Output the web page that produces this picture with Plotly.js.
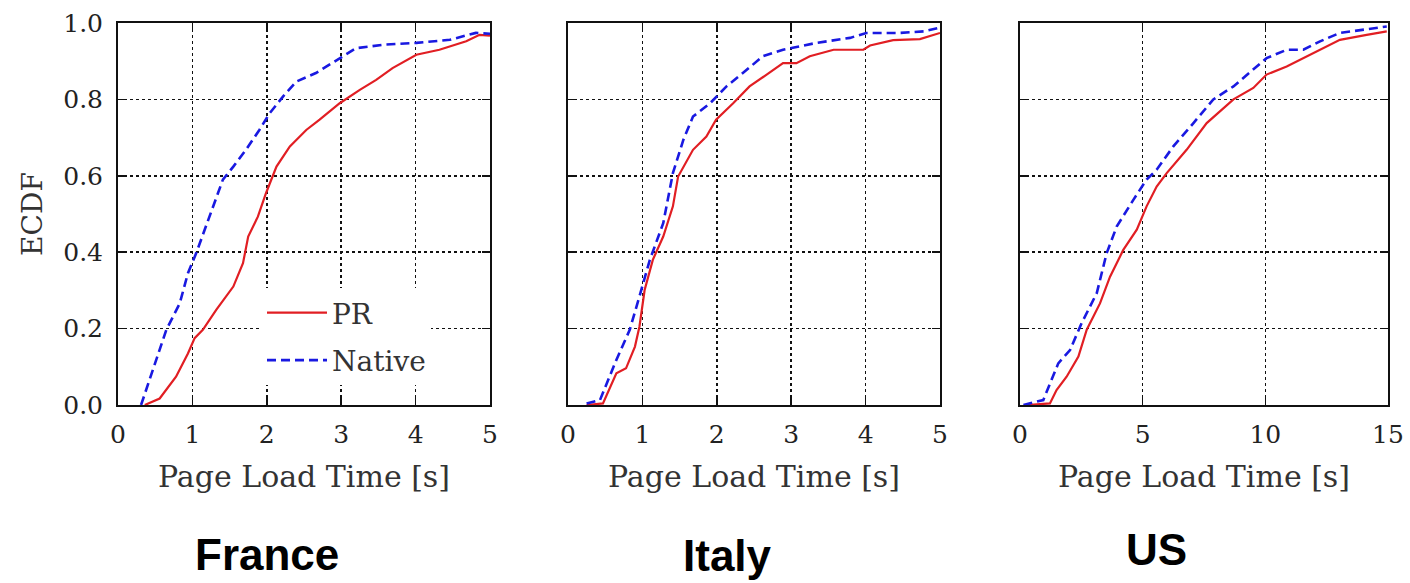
<!DOCTYPE html>
<html>
<head>
<meta charset="utf-8">
<script src="https://cdn.plot.ly/plotly-3.0.1.min.js"></script>
<style>html,body{margin:0;padding:0;background:#fff;}#chart{width:1410px;height:583px;}</style>
</head>
<body>
<div id="chart"></div>
<script>
// ---- Data ----
const countries = ["France", "Italy", "US"];
const seriesNames = ["PR", "Native"];

const francePR_x = [0.36,0.56,0.78,0.94,1.03,1.14,1.32,1.55,1.68,1.75,1.88,1.99,2.13,2.31,2.53,2.71,2.98,3.25,3.47,3.69,4.01,4.32,4.68,4.86,5.0];
const francePR_y = [0,0.017,0.074,0.135,0.175,0.197,0.249,0.31,0.371,0.441,0.493,0.555,0.624,0.677,0.72,0.747,0.79,0.825,0.851,0.882,0.917,0.93,0.952,0.969,0.967];
const franceNative_x = [0.31,0.47,0.65,0.83,0.94,1.05,1.23,1.41,1.55,1.72,1.9,2.04,2.22,2.4,2.66,2.98,3.2,3.56,4.01,4.46,4.81,5.0];
const franceNative_y = [0,0.092,0.197,0.266,0.345,0.397,0.493,0.59,0.624,0.668,0.72,0.764,0.808,0.847,0.869,0.908,0.934,0.943,0.948,0.956,0.974,0.972];

const italyPR_x = [0.25,0.47,0.65,0.78,0.9,0.96,1.03,1.14,1.28,1.41,1.48,1.68,1.86,1.99,2.22,2.44,2.67,2.89,3.07,3.25,3.57,3.97,4.06,4.37,4.73,5.0];
const italyPR_y = [0,0.004,0.083,0.096,0.153,0.205,0.301,0.38,0.441,0.52,0.598,0.668,0.703,0.747,0.79,0.834,0.865,0.895,0.895,0.913,0.93,0.93,0.941,0.955,0.958,0.974];
const italyNative_x = [0.25,0.43,0.65,0.83,0.96,1.1,1.28,1.41,1.55,1.68,1.91,2.13,2.35,2.62,2.89,3.34,3.79,4.01,4.46,4.78,4.98];
const italyNative_y = [0.004,0.013,0.118,0.197,0.284,0.38,0.476,0.607,0.694,0.755,0.79,0.834,0.869,0.913,0.93,0.948,0.961,0.974,0.974,0.978,0.987];

const usPR_x = [0.27,1.22,1.49,1.9,2.38,2.72,3.26,3.67,4.21,4.76,5.16,5.57,5.98,6.79,7.61,8.7,9.51,10.05,10.87,11.96,13.04,14.13,14.95];
const usPR_y = [0,0.004,0.039,0.074,0.127,0.197,0.266,0.336,0.406,0.459,0.52,0.572,0.607,0.668,0.738,0.8,0.83,0.865,0.886,0.921,0.956,0.969,0.978];
const usNative_x = [0.14,0.95,1.56,2.04,2.51,3.13,3.53,3.94,4.62,5.16,5.57,6.25,7.07,7.88,8.7,9.51,10.05,10.87,11.55,12.23,13.04,14.95];
const usNative_y = [0,0.013,0.109,0.144,0.214,0.293,0.397,0.467,0.537,0.59,0.616,0.677,0.738,0.8,0.834,0.878,0.908,0.93,0.93,0.952,0.974,0.991];

const xRanges = [[0,5],[0,5],[0,15]];
const xTicks = [[0,1,2,3,4,5],[0,1,2,3,4,5],[0,5,10,15]];
const yTicks = [0,0.2,0.4,0.6,0.8,1.0];
const yTickText = ["0.0","0.2","0.4","0.6","0.8","1.0"];
const xTitle = "Page Load Time [s]";
const yTitle = "ECDF";

// ---- Styling / layout ----
const W = 1410, H = 583;
const RED = "rgb(225,30,35)", BLUE = "rgb(25,25,225)";
const panelPx = [[118,490],[568,940],[1020,1388]];
const yDom = [1 - 405/H, 1 - 23/H];
const serif = "DejaVu Serif, Liberation Serif, serif";

const prX = [francePR_x, italyPR_x, usPR_x], prY = [francePR_y, italyPR_y, usPR_y];
const nvX = [franceNative_x, italyNative_x, usNative_x], nvY = [franceNative_y, italyNative_y, usNative_y];

const traces = [];
const layout = {
  width: W, height: H,
  margin: {l:0, r:0, t:0, b:0},
  paper_bgcolor: "#fff", plot_bgcolor: "#fff",
  font: {family: serif, color: "#222", size: 24},
  showlegend: true,
  legend: {x: 262/W, y: 1 - 288/H, xanchor: "left", yanchor: "top",
           bgcolor: "#fff", borderwidth: 0, font: {family: serif, size: 28, color: "#333"},
           tracegroupgap: 8, itemwidth: 60},
  annotations: [],
};

for (let i = 0; i < 3; i++) {
  const xa = i === 0 ? "x" : "x" + (i+1);
  const ya = i === 0 ? "y" : "y" + (i+1);
  traces.push({x: prX[i], y: prY[i], xaxis: xa, yaxis: ya, type: "scatter", mode: "lines",
    name: seriesNames[0], legendgroup: "pr", showlegend: i === 0, line: {color: RED, width: 2.2}});
  traces.push({x: nvX[i], y: nvY[i], xaxis: xa, yaxis: ya, type: "scatter", mode: "lines",
    name: seriesNames[1], legendgroup: "nv", showlegend: i === 0, line: {color: BLUE, width: 2.6, dash: "9px,5px"}});

  const common = {
    showline: true, linecolor: "#111", linewidth: 2, mirror: "ticks",
    ticks: "inside", ticklen: 8, tickwidth: 1.5, tickcolor: "#111",
    showgrid: true, gridcolor: "#111", gridwidth: 1.5, griddash: "dot",
    zeroline: false, fixedrange: true,
  };
  layout["xaxis" + (i === 0 ? "" : i+1)] = Object.assign({}, common, {
    domain: [panelPx[i][0]/W, panelPx[i][1]/W], anchor: ya,
    range: xRanges[i], tickmode: "array", tickvals: xTicks[i],
    tickfont: {family: serif, size: 25, color: "#222"},
    ticklabelstandoff: 6,
    title: {text: xTitle, font: {family: serif, size: 30, color: "#333"}, standoff: 18},
  });
  layout["yaxis" + (i === 0 ? "" : i+1)] = Object.assign({}, common, {
    domain: yDom, anchor: xa, range: [0, 1.0],
    tickmode: "array", tickvals: yTicks, ticktext: yTickText,
    showticklabels: i === 0,
    tickfont: {family: serif, size: 25, color: "#222"},
    ticklabelstandoff: 8,
    title: i === 0 ? {text: yTitle, font: {family: serif, size: 28, color: "#333"}, standoff: 12} : {text: ""},
  });
}

const labelPos = [[267, 554], [727, 555], [1156, 549]];
for (let i = 0; i < 3; i++) {
  layout.annotations.push({
    text: "<b>" + countries[i] + "</b>", xref: "paper", yref: "paper",
    x: labelPos[i][0]/W, y: 1 - labelPos[i][1]/H, xanchor: "center", yanchor: "middle",
    showarrow: false, font: {family: "Liberation Sans, Arial, sans-serif", size: 44, color: "#000"}
  });
}

Plotly.newPlot("chart", traces, layout, {displayModeBar: false, staticPlot: true});
</script>
</body>
</html>
